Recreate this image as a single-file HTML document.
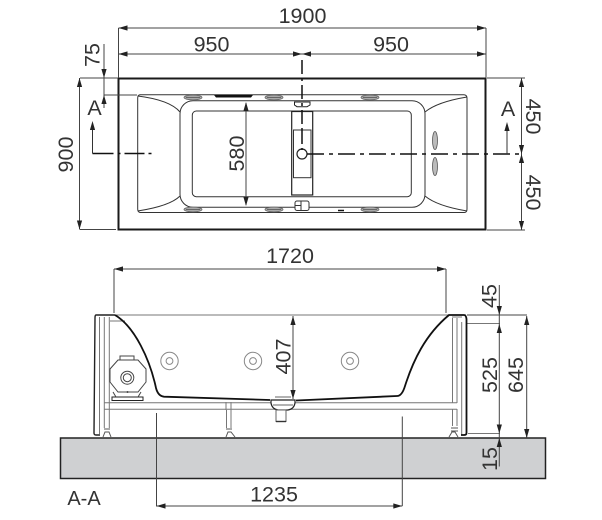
<!DOCTYPE html>
<html>
<head>
<meta charset="utf-8">
<style>
html,body{margin:0;padding:0;background:#fff;}
svg{display:block;}
text{font-family:"Liberation Sans",sans-serif;font-size:21.5px;fill:#333;text-anchor:middle;}
</style>
</head>
<body>
<svg width="602" height="520" viewBox="0 0 602 520" xmlns="http://www.w3.org/2000/svg">
<defs>
<path id="ar" d="M0 0L-9 -2.6L-9 2.6Z" fill="#222"/>
<g id="jet" fill="#aaa" stroke="#666" stroke-width="0.8"><ellipse rx="9" ry="2.4"/><path d="M-7 0H7" stroke="#555"/></g>
<g id="ring" fill="none" stroke="#888" stroke-width="1"><circle r="8.7"/><circle r="3.4"/></g>
</defs>

<!-- TOP VIEW -->
<rect x="118.500" y="78.500" width="367" height="151" fill="#fff" stroke="#1a1a1a" stroke-width="2"/>
<g fill="none" stroke="#333" stroke-width="1">
<path d="M140 94.700H464Q467 95 467 98V209Q467 212.700 464 212.500H140Q137.700 212 137.700 209V98Q137.700 95 140 94.700Z"/>
<path d="M137.700 96Q170 100 180 112M137.700 211Q170 206 180 196M467 97Q437 102 425 112M467 211Q437 206 425 196"/>
<rect x="180" y="100.700" width="245" height="106.600" rx="13"/>
<rect x="192.300" y="111" width="219" height="85.700" rx="4"/>
</g>
<rect x="291.700" y="111.500" width="21" height="83.500" fill="#fff" stroke="#222" stroke-width="1.200"/>
<rect x="293.500" y="130" width="17.500" height="47.700" fill="#fff" stroke="#333" stroke-width="1"/>
<circle cx="302" cy="154" r="5" fill="#fff" stroke="#222" stroke-width="1.200"/>
<path d="M294.500 102H310V105L307 106.700H297L294.500 105Z" fill="#fff" stroke="#222" stroke-width="1"/>
<rect x="295" y="201" width="14" height="9.500" rx="2" fill="#fff" stroke="#333" stroke-width="1"/>
<path d="M301 201V210.500M295 205.500H301" fill="none" stroke="#333" stroke-width="1"/>
<path d="M214 95H253L251 97.500H216Z" fill="#111"/>
<path d="M338 210.500h6" stroke="#111" stroke-width="1.500"/>
<use href="#jet" x="193" y="97.500"/><use href="#jet" x="274" y="97.500"/><use href="#jet" x="370" y="97.500"/>
<use href="#jet" x="193" y="209.500"/><use href="#jet" x="274" y="209.500"/><use href="#jet" x="370" y="209.500"/>
<ellipse cx="435" cy="140.500" rx="2.500" ry="9" fill="#bbb" stroke="#555" stroke-width="0.800"/>
<ellipse cx="435" cy="166.500" rx="2.500" ry="9" fill="#bbb" stroke="#555" stroke-width="0.800"/>

<!-- centre lines -->
<path d="M302 60V130M302 130V150" fill="none" stroke="#111" stroke-width="1.500" stroke-dasharray="14 4 3 4"/>
<path d="M92.500 153.500H152" fill="none" stroke="#111" stroke-width="1.500" stroke-dasharray="21 4 3 4 20 4 3 4"/>
<path d="M307 154H520" fill="none" stroke="#111" stroke-width="1.500" stroke-dasharray="17 5 4 5"/>
<path d="M92.500 153.500V125" stroke="#333" stroke-width="1" fill="none"/><use href="#ar" transform="translate(92.500 121) rotate(-90)"/>
<path d="M507 154V126" stroke="#333" stroke-width="1" fill="none"/><use href="#ar" transform="translate(507 122) rotate(-90)"/>

<!-- top dimensions -->
<g stroke="#444" stroke-width="1" fill="none">
<path d="M118.500 28H486M118.500 54H486M118.500 28V78M486 28V78"/>
<path d="M104 78H118M104 95H137M80 78H116M80 229.500H116M487 78H525M487 230H525M79.500 78V229.500M521.500 78V230"/>
<path d="M104 44V108M246 103V205"/>
</g>
<use href="#ar" transform="translate(118.500 28) rotate(180)"/><use href="#ar" x="486" y="28"/>
<use href="#ar" transform="translate(118.500 54) rotate(180)"/><use href="#ar" x="302" y="54"/>
<use href="#ar" transform="translate(302 54) rotate(180)"/><use href="#ar" x="486" y="54"/>
<use href="#ar" transform="translate(104 78) rotate(90)"/><use href="#ar" transform="translate(104 95) rotate(-90)"/>
<use href="#ar" transform="translate(79.500 78) rotate(-90)"/><use href="#ar" transform="translate(79.500 229.500) rotate(90)"/>
<use href="#ar" transform="translate(521.500 78) rotate(-90)"/><use href="#ar" transform="translate(521.500 154) rotate(90)"/>
<use href="#ar" transform="translate(521.500 154) rotate(-90)"/><use href="#ar" transform="translate(521.500 230) rotate(90)"/>
<use href="#ar" transform="translate(246 102) rotate(-90)"/><use href="#ar" transform="translate(246 206) rotate(90)"/>

<text x="302.500" y="23">1900</text>
<text x="211.500" y="51.500">950</text>
<text x="391" y="51.500">950</text>
<text transform="translate(99.500 55) rotate(-90)">75</text>
<text transform="translate(73 154.500) rotate(-90)">900</text>
<text transform="translate(244 153.500) rotate(-90)">580</text>
<text transform="translate(526 116.500) rotate(90)">450</text>
<text transform="translate(526 192.500) rotate(90)">450</text>
<text x="94.500" y="115">A</text>
<text x="508" y="116">A</text>

<!-- SECTION -->
<rect x="60.500" y="438" width="485" height="40.500" fill="#cfd0d2" stroke="#222" stroke-width="1.500"/>
<g fill="none" stroke="#777" stroke-width="1">
<path d="M115 315H466"/>
<path d="M104 402.700H457M104 409.300H457"/>
<path d="M104.300 317V428M109.300 317V428M99.500 317V434"/>
<path d="M110 321H125M452.500 318V403M457 318V403M461.700 322V435"/>
<path d="M452 317H462"/>
<path d="M226 402V410M231 402V410M226.500 410V428M231 410V428"/>
<path d="M452.500 409V426M457 409V426"/>
<path d="M467 323.500H500M468 433.500H500"/>
</g>
<path d="M115 315H96Q95 315 95 318L94 433Q94 435 96 435H100" fill="none" stroke="#222" stroke-width="1.400"/>
<path d="M115 315C135 327 150 360 156 388Q158 396 164 396.700L270 400" fill="none" stroke="#111" stroke-width="1.800"/>
<path d="M296 400.500L397 396Q402 396 405 386C413 361 425 335 449 315H464Q466 315 466.500 319V433Q466.500 435 464 435H461" fill="none" stroke="#111" stroke-width="1.800"/>
<!-- drain -->
<path d="M271 400h24v3q-1 6-7 7h-10q-6-1-7-7z" fill="#fff" stroke="#222" stroke-width="1.200"/>
<path d="M273 405H293M275 397H291" stroke="#666" stroke-width="1" fill="none"/>
<rect x="276" y="410" width="10" height="11.500" fill="#fff" stroke="#666" stroke-width="1"/>
<path d="M276 421.500h10" stroke="#333" stroke-width="1.400"/>
<!-- feet -->
<g fill="none" stroke="#555" stroke-width="1">
<path d="M103 437L105 432H109L111 437M104 429H110"/>
<path d="M226 437L228 432H231L235 437M226 429H232"/>
<path d="M449 437L452 432H455L458 437M451 428H458M451 431H458"/>
</g>
<!-- pump -->
<g fill="#fff" stroke="#444" stroke-width="1">
<path d="M120 356H134V360L138 360L146 369V382L138 392H118L110 382V369L118 360L120 360Z"/>
<circle cx="127.300" cy="377.700" r="6.500"/><circle cx="127.300" cy="377.700" r="4"/>
<path d="M120 360H134"/>
<rect x="112" y="397" width="31" height="3.500" stroke="#222"/>
<path d="M113 392L116 397M141 392L138 397"/>
</g>
<circle cx="127.500" cy="392" r="1" fill="#444"/>
<use href="#ring" x="169.500" y="361"/><use href="#ring" x="253" y="361"/><use href="#ring" x="350" y="361"/>

<!-- section dimensions -->
<g stroke="#444" stroke-width="1" fill="none">
<path d="M114 269H446M114 269V313M446 269V313"/>
<path d="M293 316V399"/>
<path d="M156.500 413V506H402.300M402.300 416.500V506"/>
<path d="M499.300 285V466.500M526.700 316V438"/>
<path d="M467 315H527"/>
</g>
<use href="#ar" transform="translate(114 269) rotate(180)"/><use href="#ar" x="446" y="269"/>
<use href="#ar" transform="translate(293 316) rotate(-90)"/><use href="#ar" transform="translate(293 399) rotate(90)"/>
<use href="#ar" transform="translate(156.500 506) rotate(180)"/><use href="#ar" x="402.300" y="506"/>
<use href="#ar" transform="translate(499.300 315) rotate(90)"/><use href="#ar" transform="translate(499.300 324) rotate(-90)"/>
<use href="#ar" transform="translate(499.300 433.500) rotate(90)"/><use href="#ar" transform="translate(499.300 438) rotate(-90)"/>
<use href="#ar" transform="translate(526.700 316) rotate(-90)"/><use href="#ar" transform="translate(526.700 438) rotate(90)"/>
<text x="290" y="263">1720</text>
<text x="274" y="501.500">1235</text>
<text transform="translate(290.500 356.500) rotate(-90)">407</text>
<text transform="translate(496.500 296) rotate(-90)">45</text>
<text transform="translate(497 375) rotate(-90)">525</text>
<text transform="translate(523 375) rotate(-90)">645</text>
<text transform="translate(497 459) rotate(-90)">15</text>
<text x="84" y="505" style="font-size:20px">A-A</text>
</svg>
</body>
</html>
